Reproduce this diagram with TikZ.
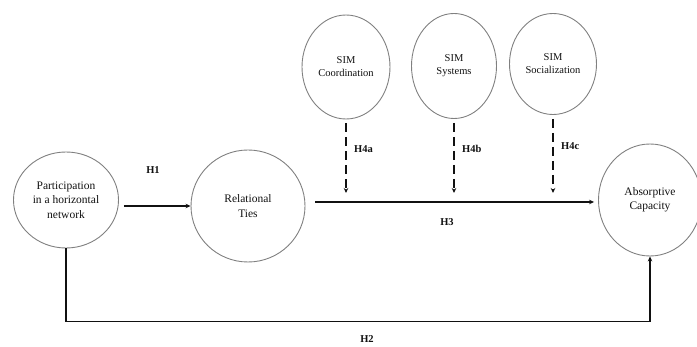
\documentclass[tikz,border=0pt]{standalone}
\usepackage{fontspec}
\setmainfont{Liberation Serif}
\usetikzlibrary{arrows.meta,shapes.geometric}
\definecolor{rim}{HTML}{808080}
\definecolor{ink}{HTML}{111111}

\begin{document}
\begin{tikzpicture}[x=1pt, y=-1pt, font=\fontsize{11.5}{14.5}\selectfont,
  construct/.style={ellipse, draw=rim, line width=0.9pt, inner sep=0pt, align=center, text=ink},
  moderator/.style={construct, font=\fontsize{10.5}{13}\selectfont},
  effect/.style={-{Stealth[length=5pt,width=4.5pt]}, ink, line width=1.5pt},
  modeffect/.style={effect, dash pattern=on 9pt off 5pt},
  hyp/.style={font=\fontsize{10.5}{12}\selectfont\bfseries, text=ink}]
  \useasboundingbox (0,0) rectangle (697,347);

  % constructs
  \node[construct, minimum width=105pt, minimum height=96pt] (part) at (66,200)
    {Participation\\in a horizontal\\network};
  \node[construct, minimum width=114pt, minimum height=112pt] (rel) at (248,206)
    {Relational\\Ties};
  \node[construct, minimum width=103pt, minimum height=112pt] (abs) at (650,200)
    {Absorptive\\Capacity};

  % moderators
  \node[moderator, minimum width=88pt, minimum height=104pt] (coord) at (346,67)
    {SIM\\Coordination};
  \node[moderator, minimum width=85pt, minimum height=105pt] (syst) at (454,66)
    {SIM\\Systems};
  \node[moderator, minimum width=87pt, minimum height=101pt] (soc) at (553,64)
    {SIM\\Socialization};

  % direct paths
  \draw[effect] ([xshift=5pt]part.east |- rel.west) -- (rel.west);
  \node[hyp] (h1) at (153,170) {H1};
  \coordinate (h3line) at (0,202);
  \draw[effect] ([xshift=10pt]rel.east |- h3line) -- ([xshift=-4pt]abs.west |- h3line);
  \node[hyp] (h3) at (447,222) {H3};
  \draw[effect] (part.south) -- ++(0,73) -| (abs.south);
  \node[hyp] (h2) at (367,339) {H2};

  % moderating paths
  \coordinate (h4end) at (0,193);
  \foreach \m/\h in {coord/H4a, syst/H4b, soc/H4c}
    \draw[modeffect] ([yshift=-4pt]\m.south) -- (\m.south |- h4end)
      node[hyp, pos=0.37, right=4pt] {\h};
\end{tikzpicture}
\end{document}
